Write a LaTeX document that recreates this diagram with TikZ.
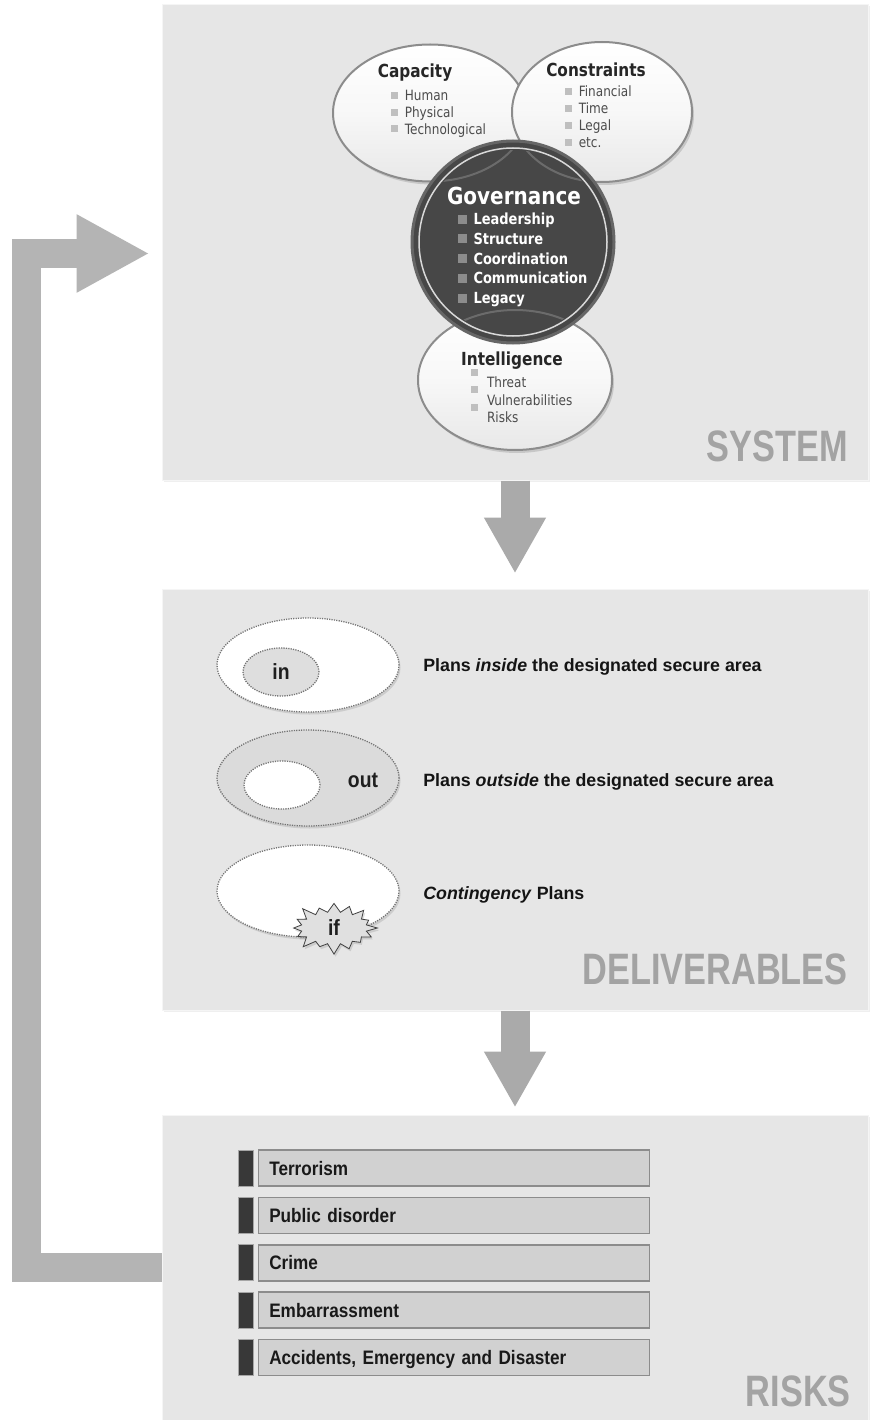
\documentclass[tikz,border=0pt]{standalone}
\usepackage{fontspec}
\setmainfont{Liberation Sans}
\newfontfamily\condfont[FakeStretch=0.88]{Liberation Sans}
\newfontfamily\headfont[FakeStretch=0.78]{Liberation Sans}
\newfontfamily\vennfont[FakeStretch=0.85]{DejaVu Sans}
\usetikzlibrary{positioning, shapes.geometric, shapes.symbols, shadows, arrows.meta}

\definecolor{panelgray}{HTML}{E6E6E6}
\definecolor{arrowgray}{HTML}{AAAAAA}
\definecolor{loopgray}{HTML}{B4B4B4}
\definecolor{govdark}{HTML}{474747}
\definecolor{headgray}{HTML}{A3A3A3}

\newcommand{\lightsq}[1][1.6pt]{\textcolor{black!25}{\raisebox{#1}{\rule{7pt}{7pt}}}}
\newcommand{\darksq}{\textcolor{black!45}{\raisebox{1pt}{\rule{9pt}{9pt}}}}

\begin{document}
\begin{tikzpicture}[x=1pt, y=-1pt, semithick,
    panel/.style = {fill=panelgray, draw=black!4, line width=1pt, minimum width=706pt, inner sep=0pt,
                    drop shadow={shadow xshift=1.5pt, shadow yshift=-1.5pt, opacity=.12}},
    bubble/.style = {ellipse, draw=black!45, line width=2pt, top color=white, bottom color=black!9,
                     middle color=white!97!black,
                     drop shadow={shadow xshift=2pt, shadow yshift=-3pt, opacity=.3}},
    vtitle/.style = {font=\vennfont\bfseries\fontsize{18}{20}\selectfont, text=black!85, inner sep=0pt},
    vitem/.style = {font=\vennfont\fontsize{14.2}{16}\selectfont, text=black!70, inner sep=0pt,
                    anchor=west, text height=10pt, text depth=0pt},
    gitem/.style = {font=\vennfont\bfseries\fontsize{15.3}{17}\selectfont, text=white, inner sep=0pt,
                    anchor=west, text height=11pt, text depth=0pt},
    plan/.style = {ellipse, dash pattern=on 1.2pt off 1.2pt, draw=black!55, line width=1.3pt, inner sep=0pt},
    planshadow/.style = {drop shadow={shadow xshift=1.5pt, shadow yshift=-2.5pt, opacity=.25}},
    plantext/.style = {anchor=west, inner sep=0pt, font=\bfseries\fontsize{17.8}{20}\selectfont,
                       text=black!92, text height=12.8pt, text depth=0pt},
    tag/.style = {font=\condfont\bfseries\fontsize{22}{24}\selectfont, text=black!88},
    riskmark/.style = {fill=black!78, draw=black!35, line width=1pt, minimum width=15pt,
                       minimum height=36pt, inner sep=0pt},
    riskbox/.style = {fill=black!18, draw=black!45, line width=1.6pt, text width=369pt, inner xsep=11pt,
                      inner ysep=0pt, minimum height=36pt, align=left, text=black!90,
                      font=\condfont\bfseries\fontsize{19.5}{22}\selectfont, text height=14pt, text depth=0pt},
    heading/.style = {anchor=base east, inner sep=0pt, text=headgray,
                      font=\headfont\bfseries\fontsize{44}{48}\selectfont},
    flow/.style = {line width=29pt, draw=arrowgray, -{Triangle[length=56pt, width=58pt]}},
  ]
  \fill[white] (0,0) rectangle (874,1420);
  \useasboundingbox (0,0) rectangle (874,1420);

  \node[panel, minimum height=475pt] (system) at (515, 242.5) {};
  \node[panel, minimum height=421pt] (deliv)  at (515, 799.5) {};
  \node[panel, minimum height=305pt] (risks)  at (515, 1267.5) {};

  \draw[flow, shorten >=15pt] (system.south) -- (deliv.north);
  \draw[flow, shorten >=7pt]  (deliv.south)  -- (risks.north);
  \draw[flow, draw=loopgray, line join=miter, -{Triangle[length=73pt, width=73pt]}, shorten >=12pt]
    (risks.west) -- ++(-135.5,0) |- ([yshift=-11pt]system.west);

  % system
  \node[bubble, minimum width=194pt, minimum height=137pt] (capacity)    at (430, 113) {};
  \node[bubble, minimum width=180pt, minimum height=140pt] (constraints) at (602, 112) {};
  \node[bubble, minimum width=194pt, minimum height=140pt] (intel)       at (515, 380) {};
  \node[circle, fill=govdark, draw=black!60, line width=3pt, minimum size=202pt] (gov) at (513, 242) {};
  \draw[white!85!black, line width=1.5pt] (gov.center) circle (94pt);
  \begin{scope}
    \clip (gov.center) circle (92pt);
    \draw[white, opacity=.2, line width=2pt] (capacity.center) ellipse (97pt and 68.5pt);
    \draw[white, opacity=.2, line width=2pt] (constraints.center) ellipse (90pt and 70pt);
    \draw[white, opacity=.2, line width=2pt] (intel.center) ellipse (97pt and 70pt);
  \end{scope}

  \node[vtitle] (captitle) at (415, 73) {Capacity};
  \foreach \item [count=\i] in {Human, Physical, Technological}
    \node[vitem] (cap\i) at (391, {79+16.7*\i}) {\lightsq\hspace{6.5pt}\item};
  \node[vtitle] (contitle) at (596, 70) {Constraints};
  \foreach \item [count=\i] in {Financial, Time, Legal, etc.}
    \node[vitem] (con\i) at (564.5, {75+17*\i}) {\lightsq\hspace{7pt}\item};

  \node[vtitle, text=white, font=\vennfont\bfseries\fontsize{23.5}{26}\selectfont] (govtitle) at (514, 196) {Governance};
  \foreach \item [count=\i] in {Leadership, Structure, Coordination, Communication, Legacy}
    \node[gitem] (gov\i) at (457.7, {199.5+19.75*\i}) {\darksq\hspace{6.5pt}\item};

  \node[vtitle] (inttitle) at (512, 361) {Intelligence};
  \foreach \item [count=\i] in {Threat, Vulnerabilities, Risks}
    \node[vitem] (int\i) at (470.7, {365+17.5*\i}) {\lightsq[11.6pt]\hspace{9pt}\item};

  \node[heading] (systemtitle) at (848, 461) {SYSTEM};

  % deliverables
  \node[plan, planshadow, fill=white, minimum width=182pt, minimum height=94pt] (insidezone) at (308, 665) {};
  \node[plan, fill=black!13, minimum width=76pt, minimum height=48pt, tag] (inzone) at (281, 672) {in};
  \node[plantext] (insidetext) at (423, 665) {Plans \textit{inside} the designated secure area};

  \node[plan, planshadow, fill=black!14, minimum width=182pt, minimum height=96pt] (outsidezone) at (308, 778) {};
  \node[plan, fill=white, minimum width=76pt, minimum height=48pt] (outzone) at (282, 785) {};
  \node[tag, inner sep=0pt] (outtag) at (363, 780) {out};
  \node[plantext] (outsidetext) at (423, 780) {Plans \textit{outside} the designated secure area};

  \node[plan, planshadow, fill=white, minimum width=182pt, minimum height=92pt] (contzone) at (308, 891) {};
  \node[starburst, starburst points=16, starburst point height=12pt, fill=black!12, draw=black!75,
        line width=.8pt, minimum width=90pt, minimum height=56pt, inner sep=0pt, planshadow, tag] (ifburst) at (334, 928) {if};
  \node[plantext] (conttext) at (423, 893) {\textit{Contingency} Plans};

  \node[heading] (delivtitle) at (848, 984) {DELIVERABLES};

  % risks
  \foreach \riskname [count=\i] in {Terrorism, Public disorder, Crime, Embarrassment, {Accidents, Emergency and Disaster}} {
    \node[riskmark] (mark\i) at (245.5, {1168+47.4*(\i-1)}) {};
    \node[riskbox, right=4pt of mark\i] (risk\i) {\riskname};
  }

  \node[heading] (riskstitle) at (851, 1406) {RISKS};
\end{tikzpicture}
\end{document}
